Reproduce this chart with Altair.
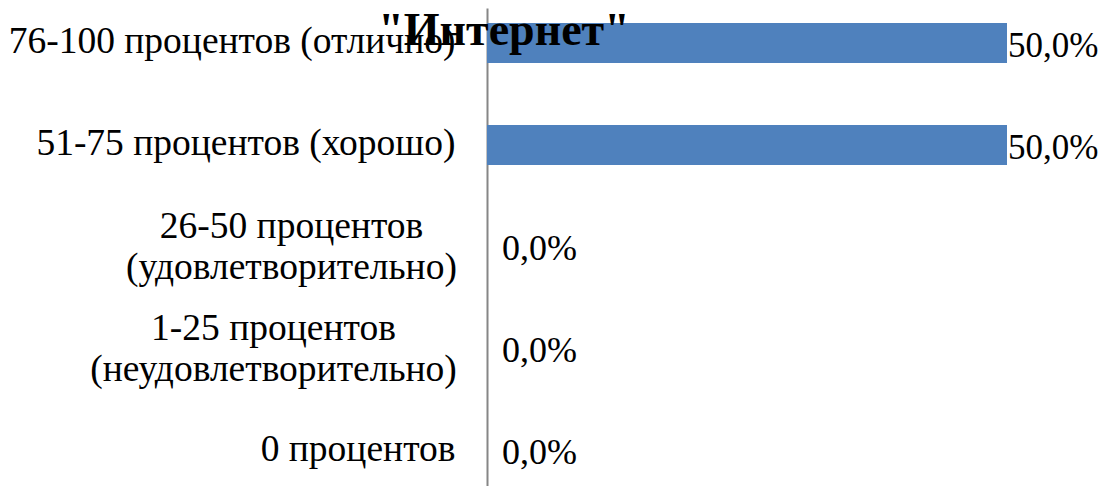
import altair as alt
import pandas as pd

categories = [
    "76-100 процентов (отлично)",
    "51-75 процентов (хорошо)",
    "26-50 процентов|(удовлетворительно)",
    "1-25 процентов|(неудовлетворительно)",
    "0 процентов",
]
values = [0.5, 0.5, 0.0, 0.0, 0.0]
labels = [f"{v * 100:.1f}%".replace(".", ",") for v in values]
title_text = ['"Интернет"']

df = pd.DataFrame({"cat": categories, "val": values, "lbl": labels})
tdf = pd.DataFrame({"t": title_text})

FONT = "Liberation Serif"
FS = 37.5

y_enc = alt.Y(
    "cat:N",
    sort=categories,
    title=None,
    scale=alt.Scale(paddingInner=0.608, paddingOuter=0.147),
    axis=alt.Axis(
        labelExpr="split(datum.label, '|')",
        labelFont=FONT,
        labelFontSize=FS,
        labelColor="#000000",
        labelLineHeight=41,
        labelAlign={
            "condition": {"test": "indexof(datum.value, '|') >= 0", "value": "center"},
            "value": "right",
        },
        labelOffset={
            "condition": {"test": "indexof(datum.value, '|') >= 0", "value": -20},
            "value": -1,
        },
        labelPadding={
            "condition": [
                {"test": "indexof(datum.value, 'неуд') >= 0", "value": 214},
                {"test": "indexof(datum.value, 'удовл') >= 0", "value": 196},
            ],
            "value": 32,
        },
        labelLimit=600,
        ticks=False,
        domainColor="#868686",
        domainWidth=2,
        grid=False,
        labelBaseline="middle",
    ),
)
x_enc = alt.X("val:Q", scale=alt.Scale(domain=[0, 0.5], nice=False), axis=None)

bars = alt.Chart(df).mark_bar(color="#4F81BD").encode(x=x_enc, y=y_enc)

txt_big = (
    alt.Chart(df)
    .transform_filter("datum.val > 0")
    .mark_text(align="left", baseline="middle", dx=1, dy=3, font=FONT, fontSize=35, color="#000000")
    .encode(x=x_enc, y=alt.Y("cat:N", sort=categories), text="lbl:N")
)
txt_zero = (
    alt.Chart(df)
    .transform_filter("datum.val <= 0")
    .mark_text(align="left", baseline="middle", dx=15, dy=2, font=FONT, fontSize=36, color="#000000")
    .encode(x=x_enc, y=alt.Y("cat:N", sort=categories), text="lbl:N")
)

title_mark = (
    alt.Chart(tdf)
    .mark_text(align="center", baseline="alphabetic", font=FONT, fontSize=46, fontWeight="bold", color="#000000")
    .encode(text="t:N", x=alt.value(17), y=alt.value(37))
)

chart = (
    alt.layer(bars, txt_big, txt_zero, title_mark)
    .properties(
        width=520,
        height=478,
        autosize=alt.AutoSizeParams(type="none"),
        padding={"left": 479, "top": 0, "right": 91, "bottom": 0},
    )
    .configure_view(stroke=None)
)

chart.save("out.html", embed_options={"renderer": "svg", "actions": False})
